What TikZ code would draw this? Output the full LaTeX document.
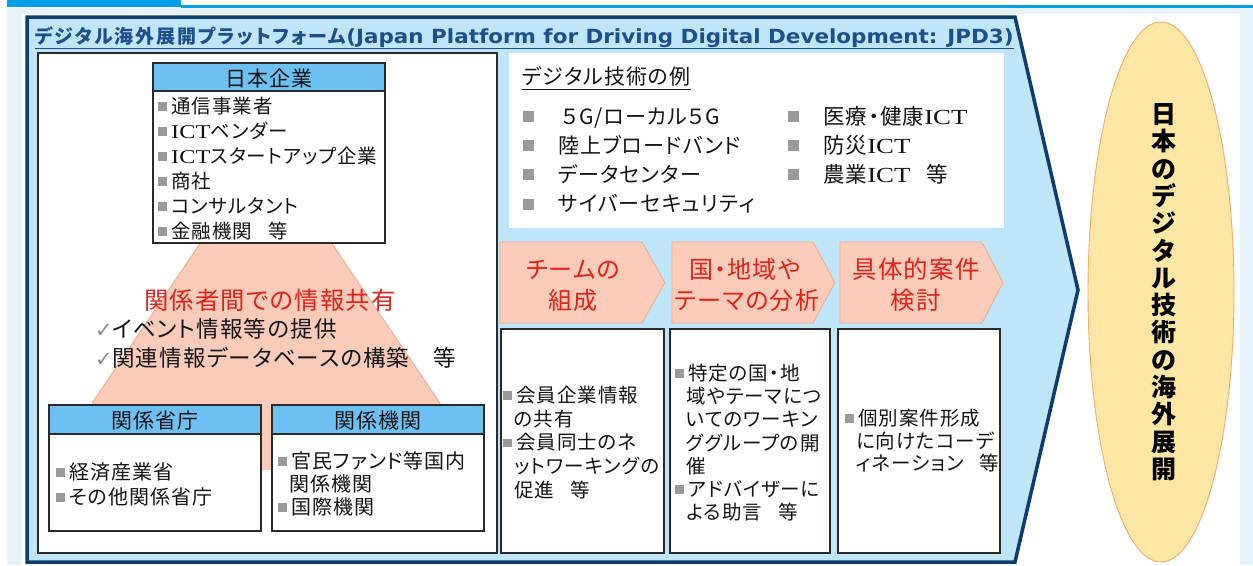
\documentclass[tikz,border=0pt]{standalone}
\usepackage{fontspec}
\newfontfamily\jpf{Noto Sans CJK JP}[RawFeature=+palt,LetterSpace=5]
\newfontfamily\jpt{Noto Sans CJK JP}[RawFeature=+palt,LetterSpace=10]
\newfontfamily\serf{Liberation Serif}[FakeStretch=1.25]
\newfontfamily\djsans{DejaVu Sans}
\newfontfamily\djwide{DejaVu Sans}[FakeStretch=1.1]
\definecolor{topblue}{HTML}{00A0E9}
\definecolor{outerbg}{HTML}{E6F3FB}
\definecolor{arrowfill}{HTML}{BEE6F8}
\definecolor{navy}{HTML}{0D3C6E}
\definecolor{titleblue}{HTML}{1F4E8C}
\definecolor{hdrblue}{HTML}{6CC0F2}
\definecolor{pinkfill}{HTML}{F9CBB8}
\definecolor{pinkline}{HTML}{F2A98A}
\definecolor{redtext}{HTML}{E3211B}
\definecolor{ellfill}{HTML}{FEE6A5}
\definecolor{ellline}{HTML}{F4A96A}
\definecolor{bulg}{HTML}{9A9A9A}
\definecolor{chkg}{HTML}{8A8A8A}
\definecolor{txtc}{HTML}{141414}
\definecolor{boxc}{HTML}{2A2A2A}
\newcommand\fsz[1]{\fontsize{#1}{#1}\selectfont}
\newcommand\bul{\makebox[13pt][l]{\textcolor{bulg}{\rule[2.75pt]{8.5pt}{8.5pt}}}}
\newcommand\contind{\hspace*{11pt}}
\newcommand\bigbul{\makebox[35pt][l]{\textcolor{bulg}{\rule[2pt]{11pt}{11pt}}}}
\newcommand\ICT{{\serf ICT}}
\newcommand\gap{\hspace*{16pt}}
\newcommand\chk{\makebox[17pt][l]{\djsans\fsz{21}\textcolor{chkg}{✓}}}
\begin{document}
\begin{tikzpicture}[x=1pt,y=-1pt,
  txt/.style={inner sep=0pt, text=txtc},
  bx/.style={draw=boxc, line width=1.2pt, fill=white},
  hd/.style={draw=boxc, line width=1.2pt, fill=hdrblue},
  chev/.style={draw=pinkline, line width=0.8pt, fill=pinkfill},
  redt/.style={inner sep=0pt, text=redtext},
]
\useasboundingbox (0,0) rectangle (1253,565);
% backgrounds
\fill[white] (0,0) rectangle (1253,565);
\fill[outerbg] (7,8) rectangle (1253,565);
\fill[white] (22,14) rectangle (1240,565);
\fill[topblue] (7,0) rectangle (181,6.5);
\fill[topblue] (181,5) rectangle (1253,7.5);
% big arrow
\draw[navy, line width=3.5pt, fill=arrowfill, line join=miter]
  (27,17) -- (1015,17) -- (1078,290) -- (1015,562) -- (27,562) -- cycle;
% title
\node[inner sep=0pt, text=titleblue, anchor=base west] (title) at (35,43.5)
  {{\jpt\bfseries\fsz{19}デジタル海外展開プラットフォーム}{\djwide\bfseries\fsz{19.5}(Japan Platform for Driving Digital Development: JPD3)}};
\draw[titleblue, line width=1.2pt] ([yshift=-5pt]title.base west) -- ([yshift=-5pt]title.base east);
% left panel
\draw[boxc, line width=1.3pt, fill=white] (38,53) rectangle (497,553);
% pyramid
\fill[pinkfill] (92,403) -- (266,146) -- (440,403) -- (440,470) -- (92,470) -- cycle;
\draw[pinkline, line width=0.8pt] (92,403) -- (266,146) -- (440,403);
% Japanese companies box
\draw[bx] (153,63) rectangle (385,243);
\draw[hd] (153,63) rectangle (385,91);
\node[txt, anchor=base, font=\jpf\fsz{21}] (jkh) at (269,86) {日本企業};
\foreach \t [count=\i] in {{\bul 通信事業者},{\bul\ICT ベンダー},{\bul\ICT スタートアップ企業},{\bul 商社},{\bul コンサルタント},{\bul 金融機関\gap 等}}
  \node[txt, anchor=base west, font=\jpf\fsz{19.5}] (jk\i) at (158,{113.5+25*(\i-1)}) {\t};
% sharing text
\node[redt, anchor=base, font=\jpf\fsz{24.3}] (share) at (270,309) {関係者間での情報共有};
\foreach \t [count=\i] in {{\chk イベント情報等の提供},{\chk 関連情報データベースの構築\hspace*{24pt}等}}
  \node[txt, anchor=base west, font=\jpf\fsz{22.5}] (sh\i) at (95,{337.5+29*(\i-1)}) {\t};
% ministries box
\draw[bx] (49,405) rectangle (261,531);
\draw[hd] (49,405) rectangle (261,434);
\node[txt, anchor=base, font=\jpf\fsz{21}] (msh) at (155,428) {関係省庁};
\foreach \t [count=\i] in {{\bul 経済産業省},{\bul その他関係省庁}}
  \node[txt, anchor=base west, font=\jpf\fsz{20}] (ms\i) at (56,{479.5+25*(\i-1)}) {\t};
% agencies box
\draw[bx] (272,405) rectangle (484,531);
\draw[hd] (272,405) rectangle (484,434);
\node[txt, anchor=base, font=\jpf\fsz{21}] (agh) at (378,428) {関係機関};
\foreach \t [count=\i] in {{\bul 官民ファンド等国内},{\contind 関係機関},{\bul 国際機関}}
  \node[txt, anchor=base west, font=\jpf\fsz{20}] (ag\i) at (278,{468.5+23*(\i-1)}) {\t};
% digital technology examples
\fill[white] (509,53) rectangle (1004,228);
\node[txt, anchor=base west, font=\jpf\fsz{21}] (dtitle) at (522,84.5) {デジタル技術の例};
\draw[txtc, line width=0.9pt] ([yshift=-5pt]dtitle.base west) -- ([yshift=-5pt]dtitle.base east);
\foreach \t [count=\i] in {{\bigbul\hspace*{4pt}５G/ローカル５G},{\bigbul 陸上ブロードバンド},{\bigbul データセンター},{\bigbul サイバーセキュリティ}}
  \node[txt, anchor=base west, font=\jpf\fsz{21}] (dt\i) at (523,{124+29.2*(\i-1)}) {\t};
\foreach \t [count=\i] in {{\bigbul 医療・健康\ICT},{\bigbul 防災\ICT},{\bigbul 農業\ICT\gap 等}}
  \node[txt, anchor=base west, font=\jpf\fsz{21.5}] (du\i) at (788,{124+29.2*(\i-1)}) {\t};
% chevrons
\draw[chev] (500,242) -- (642,242) -- (665,282.5) -- (642,323) -- (500,323) -- cycle;
\draw[chev] (672,242) -- (813,242) -- (835,282.5) -- (813,323) -- (672,323) -- cycle;
\draw[chev] (840,242) -- (982,242) -- (1003,282.5) -- (982,323) -- (840,323) -- cycle;
\node[redt, anchor=base, font=\jpf\fsz{24}] (c1a) at (573,278) {チームの};
\node[redt, anchor=base, font=\jpf\fsz{24}] (c1b) at (573,309) {組成};
\node[redt, anchor=base, font=\jpf\fsz{24}] (c2a) at (745,278) {国・地域や};
\node[redt, anchor=base, font=\jpf\fsz{24}] (c2b) at (747,309) {テーマの分析};
\node[redt, anchor=base, font=\jpf\fsz{24.5}] (c3a) at (916,278) {具体的案件};
\node[redt, anchor=base, font=\jpf\fsz{24.5}] (c3b) at (916,309) {検討};
% process boxes
\draw[bx] (501,329) rectangle (664,553);
\draw[bx] (670,329) rectangle (830,553);
\draw[bx] (838,329) rectangle (1000,553);
\foreach \t [count=\i] in {{\bul 会員企業情報},{\contind の共有},{\bul 会員同士のネ},{\contind ットワーキングの},{\contind 促進\gap 等}}
  \node[txt, anchor=base west, font=\jpf\fsz{19.5}] (p1\i) at (503,{402.5+23.7*(\i-1)}) {\t};
\foreach \t [count=\i] in {{\bul 特定の国・地},{\contind 域やテーマにつ},{\contind いてのワーキン},{\contind ググループの開},{\contind 催},{\bul アドバイザーに},{\contind よる助言\gap 等}}
  \node[txt, anchor=base west, font=\jpf\fsz{19.5}] (p2\i) at (675,{380.5+23.2*(\i-1)}) {\t};
\foreach \t [count=\i] in {{\bul 個別案件形成},{\contind に向けたコーデ},{\contind ィネーション\gap 等}}
  \node[txt, anchor=base west, font=\jpf\fsz{19.5}] (p3\i) at (845,{425.5+22.5*(\i-1)}) {\t};
% goal ellipse
\draw[ellline, line width=0.9pt, fill=ellfill] (1161,292) ellipse [x radius=73, y radius=270];
\foreach \c [count=\i] in {日,本,の,デ,ジ,タ,ル,技,術,の,海,外,展,開}
  \node[txt, anchor=base, font=\jpf\bfseries\fsz{25}, text=black] (e\i) at (1164,{123.5+27.3*(\i-1)}) {\c};
\end{tikzpicture}
\end{document}
